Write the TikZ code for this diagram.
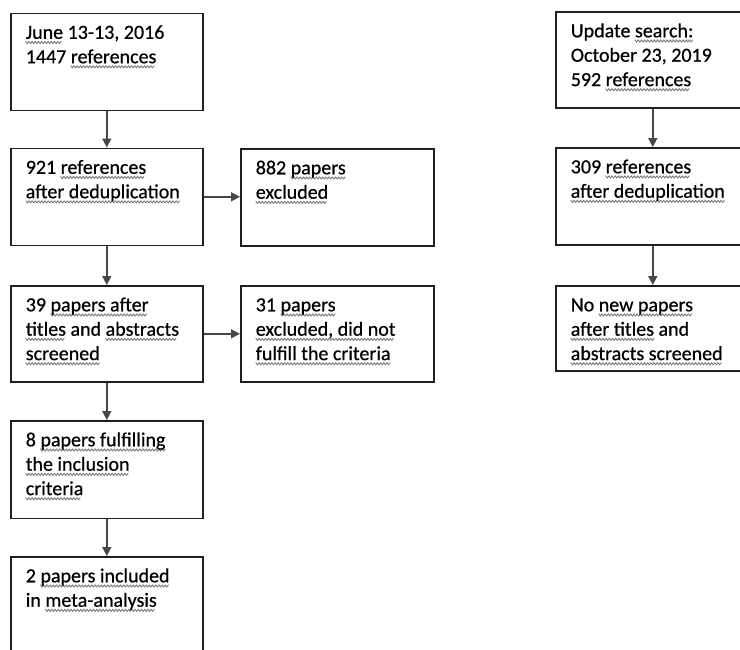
\documentclass[tikz,border=0pt]{standalone}
\usepackage{fontspec}
\setmainfont{Carlito}[FakeBold=0.6]
\usetikzlibrary{arrows.meta}
\newdimen\sqpos
\newcommand\sqline[1]{%
  \begin{pgfpicture}%
    \pgfsetlinewidth{0.8pt}\pgfsetstrokecolor{black!55}%
    \pgfsetroundjoin\pgfsetroundcap
    \sqpos=0pt
    \pgfpathmoveto{\pgfpoint{0pt}{-2.5pt}}%
    \loop
      \advance\sqpos by 1.6pt
      \pgfpathlineto{\pgfpoint{\sqpos}{-4.8pt}}%
      \advance\sqpos by 1.6pt
      \pgfpathlineto{\pgfpoint{\sqpos}{-2.5pt}}%
      \ifdim\sqpos<\dimexpr#1-3.2pt\relax
    \repeat
    \pgfusepath{stroke}%
    \pgfresetboundingbox
    \pgfpathrectangle{\pgfpoint{0pt}{0pt}}{\pgfpoint{#1}{0pt}}%
    \pgfusepath{use as bounding box}%
  \end{pgfpicture}}
\newcommand\sqw[1]{\setbox0=\hbox{#1}\leavevmode\rlap{\sqline{\wd0}}\box0\relax}
\tikzset{
  box/.style={draw=black!88, line width=1.6pt, anchor=north west, inner xsep=15pt, inner ysep=0pt,
    minimum width=192pt, text height=25.5pt, align=left,
    font=\fontsize{20pt}{24.4pt}\selectfont},
  arr/.style={draw=black!72, line width=1.5pt, -{Triangle[length=9pt,width=9pt]}}
}
\begin{document}
\begin{tikzpicture}[x=1pt,y=-1pt]
\clip (0,0) rectangle (740,649);
\fill[white] (0,0) rectangle (740,649);
% left column
\node[box, text depth=71.5pt] (b1) at (10,12.5) {\parbox[t]{162pt}{\sqw{June} 13-13, 2016\\1447 \sqw{references}}};
\node[box, text depth=71.5pt] (b2) at (10,147.5) {\parbox[t]{162pt}{921 \sqw{references}\\\sqw{after deduplication}}};
\node[box, text depth=71.5pt, minimum width=193pt] (b3) at (240,148) {\parbox[t]{163pt}{882 \sqw{papers}\\\sqw{excluded}}};
\node[box, text depth=70.5pt] (b4) at (10,285) {\parbox[t]{162pt}{39 \sqw{papers after}\\\sqw{titles} and \sqw{abstracts}\\\sqw{screened}}};
\node[box, text depth=70.5pt, minimum width=193pt] (b5) at (240,285) {\parbox[t]{163pt}{31 \sqw{papers}\\\sqw{excluded, did not}\\\sqw{fulfill the criteria}}};
\node[box, text depth=72pt] (b6) at (10,420) {\parbox[t]{162pt}{8 \sqw{papers fulfilling}\\\sqw{the inclusion}\\\sqw{criteria}}};
\node[box, text depth=90pt] (b7) at (10,556) {\parbox[t]{162pt}{2 \sqw{papers included}\\in \sqw{meta-analysis}}};
% right column
\node[box, text depth=70.5pt, minimum width=194pt] (r1) at (555,11) {\parbox[t]{164pt}{Update \sqw{search:}\\October 23, 2019\\592 \sqw{references}}};
\node[box, text depth=71.5pt, minimum width=194pt] (r2) at (555,147) {\parbox[t]{164pt}{309 \sqw{references}\\\sqw{after deduplication}}};
\node[box, text depth=59.5pt, minimum width=194pt] (r3) at (555,285) {\parbox[t]{164pt}{No \sqw{new papers}\\\sqw{after titles} and\\\sqw{abstracts screened}}};
% connectors
\draw[arr] (b1.south) -- (b2.north);
\draw[arr] (b2.south) -- (b4.north);
\draw[arr] (b4.south) -- (b6.north);
\draw[arr] (b6.south) -- (b7.north);
\draw[arr] (b2.east) -- (b2.east -| b3.west);
\draw[arr] (b4.east) -- (b5.west);
\draw[arr] (r1.south) -- (r2.north);
\draw[arr] (r2.south) -- (r3.north);
\end{tikzpicture}
\end{document}
